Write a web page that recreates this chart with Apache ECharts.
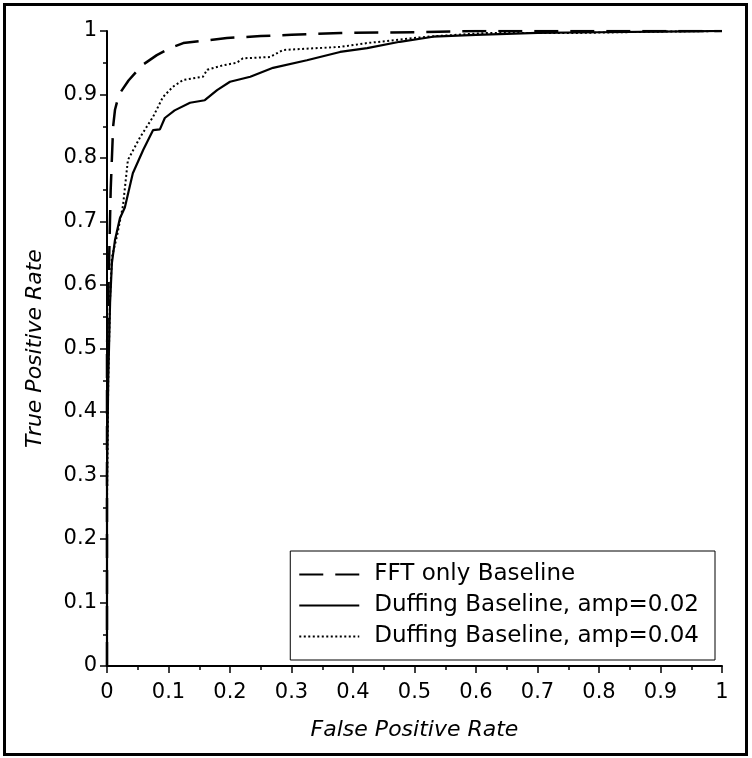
<!DOCTYPE html>
<html>
<head>
<meta charset="utf-8">
<script src="https://cdn.jsdelivr.net/npm/echarts@6/dist/echarts.min.js"></script>
<style>
html,body{margin:0;padding:0;background:#fff;}
#chart{width:752px;height:758px;}
</style>
</head>
<body>
<div id="chart"></div>
<script>
// Series names
var seriesNames = ['FFT only Baseline', 'Duffing Baseline, amp=0.02', 'Duffing Baseline, amp=0.04'];

// FFT only Baseline (dashed)
var fftX = [0, 0, 0.003, 0.006, 0.01, 0.013, 0.0195, 0.035, 0.057, 0.081, 0.1, 0.124, 0.151, 0.195, 0.25, 0.3, 0.38, 0.5, 0.6, 0.7, 0.8, 1];
var fftY = [0, 0.5, 0.62, 0.75, 0.85, 0.876, 0.9, 0.922, 0.946, 0.962, 0.972, 0.981, 0.984, 0.989, 0.992, 0.994, 0.997, 0.998, 1, 1, 1, 1];

// Duffing Baseline, amp=0.02 (solid)
var d02X = [0, 0, 0.002, 0.005, 0.008, 0.013, 0.021, 0.029, 0.042, 0.059, 0.075, 0.086, 0.094, 0.11, 0.135, 0.159, 0.179, 0.2, 0.233, 0.27, 0.325, 0.379, 0.423, 0.476, 0.53, 0.6, 0.7, 0.8, 0.9, 1];
var d02Y = [0, 0.3, 0.45, 0.572, 0.635, 0.671, 0.705, 0.722, 0.776, 0.813, 0.844, 0.845, 0.863, 0.875, 0.887, 0.891, 0.907, 0.92, 0.928, 0.942, 0.954, 0.967, 0.973, 0.983, 0.991, 0.994, 0.997, 0.998, 0.999, 1];

// Duffing Baseline, amp=0.04 (dotted)
var d04X = [0, 0, 0.002, 0.005, 0.008, 0.016, 0.026, 0.034, 0.054, 0.075, 0.091, 0.107, 0.124, 0.156, 0.163, 0.189, 0.211, 0.221, 0.265, 0.286, 0.379, 0.423, 0.52, 0.618, 0.769, 0.9, 1];
var d04Y = [0, 0.26, 0.45, 0.58, 0.644, 0.676, 0.725, 0.797, 0.833, 0.865, 0.896, 0.912, 0.923, 0.928, 0.939, 0.946, 0.95, 0.957, 0.959, 0.97, 0.975, 0.981, 0.991, 0.997, 0.997, 0.999, 1];

// Axis tick labels
var tickLabels = ['0', '0.1', '0.2', '0.3', '0.4', '0.5', '0.6', '0.7', '0.8', '0.9', '1'];

function pairs(xs, ys) {
  var out = [];
  for (var i = 0; i < xs.length; i++) out.push([xs[i], ys[i]]);
  return out;
}

var chart = echarts.init(document.getElementById('chart'), null, {renderer: 'canvas'});
var FONT = 'DejaVu Sans';

function fmt(v) {
  var idx = Math.round(v * 10);
  return tickLabels[idx] !== undefined ? tickLabels[idx] : '';
}

var axisCommon = {
  type: 'value',
  min: 0,
  max: 1,
  interval: 0.1,
  splitLine: {show: false},
  axisLine: {show: true, onZero: false, lineStyle: {color: '#000', width: 2}},
  axisTick: {show: true, length: 7, lineStyle: {color: '#000', width: 1.5}},
  minorTick: {show: true, splitNumber: 2, length: 4, lineStyle: {color: '#000', width: 1.5}},
  axisLabel: {color: '#000', fontFamily: FONT, fontSize: 21, formatter: fmt}
};

var option = {
  backgroundColor: '#fff',
  animation: false,
  grid: {left: 107, right: 30, top: 31, bottom: 92, containLabel: false},
  xAxis: Object.assign({}, axisCommon, {
    name: 'False Positive Rate',
    nameLocation: 'middle',
    nameGap: 53,
    nameTextStyle: {color: '#000', fontFamily: FONT, fontStyle: 'italic', fontSize: 22},
    axisLabel: Object.assign({}, axisCommon.axisLabel, {margin: 16})
  }),
  yAxis: Object.assign({}, axisCommon, {
    name: 'True Positive Rate',
    nameLocation: 'middle',
    nameGap: 61,
    nameTextStyle: {color: '#000', fontFamily: FONT, fontStyle: 'italic', fontSize: 22},
    axisLabel: Object.assign({}, axisCommon.axisLabel, {margin: 10})
  }),
  legend: {
    show: true,
    right: 37,
    bottom: 98,
    orient: 'vertical',
    itemWidth: 60,
    itemHeight: 14,
    itemGap: 8,
    padding: [12, 16, 12, 8],
    borderColor: '#000',
    borderWidth: 1,
    borderRadius: 0,
    backgroundColor: '#fff',
    itemStyle: {opacity: 0},
    textStyle: {color: '#000', fontFamily: FONT, fontSize: 23, padding: [0, 0, 0, 10]},
    data: seriesNames
  },
  graphic: [{
    type: 'rect',
    shape: {x: 4.5, y: 4.5, width: 742, height: 750},
    style: {fill: 'none', stroke: '#000', lineWidth: 3},
    silent: true,
    z: 100
  }],
  series: [
    {
      name: seriesNames[0], type: 'line', showSymbol: false, symbol: 'none',
      data: pairs(fftX, fftY),
      lineStyle: {color: '#000', width: 2.5, type: [24, 12]},
      itemStyle: {color: '#000'}, z: 3
    },
    {
      name: seriesNames[1], type: 'line', showSymbol: false, symbol: 'none',
      data: pairs(d02X, d02Y),
      lineStyle: {color: '#000', width: 2.2, type: 'solid'},
      itemStyle: {color: '#000'}, z: 4
    },
    {
      name: seriesNames[2], type: 'line', showSymbol: false, symbol: 'none',
      data: pairs(d04X, d04Y),
      lineStyle: {color: '#000', width: 2, type: [2, 2.5]},
      itemStyle: {color: '#000'}, z: 5
    }
  ]
};
chart.setOption(option);
</script>
</body>
</html>
